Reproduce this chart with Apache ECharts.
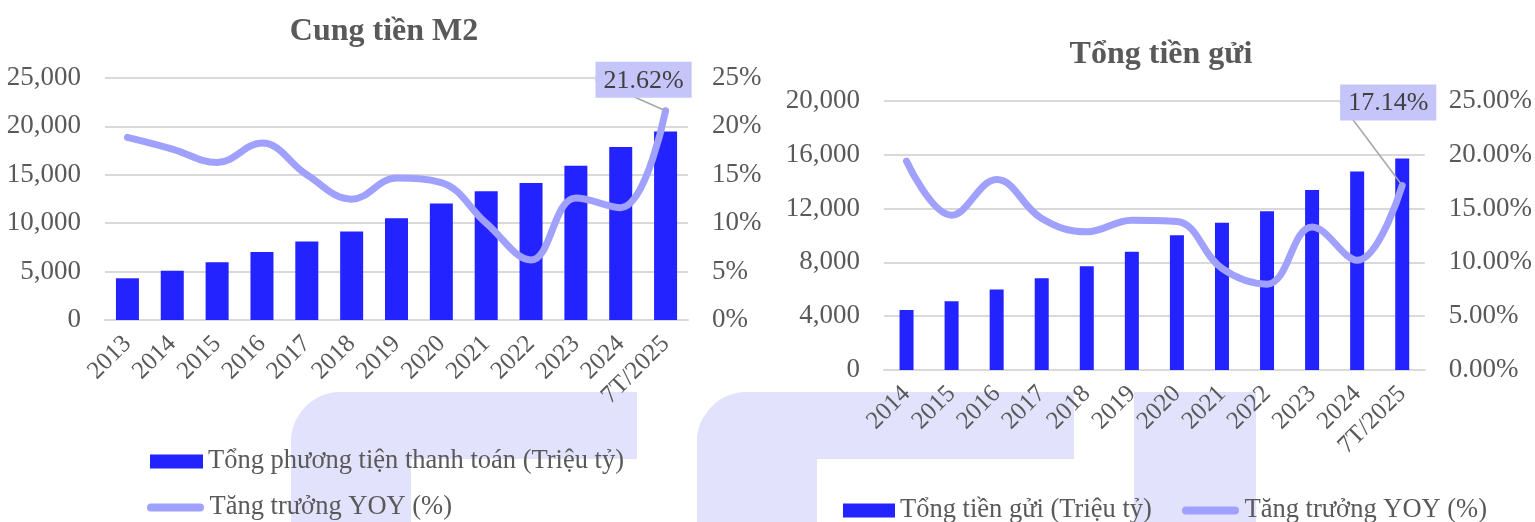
<!DOCTYPE html>
<html>
<head>
<meta charset="utf-8">
<script src="https://cdn.jsdelivr.net/npm/echarts@6/dist/echarts.min.js"></script>
<style>
  html, body { margin: 0; padding: 0; background: #fff; }
  #chart { width: 1535px; height: 522px; }
</style>
</head>
<body>
<div id="chart"></div>
<script>
// chart 1: Cung tien M2
const m2Years = ["2013", "2014", "2015", "2016", "2017", "2018", "2019", "2020", "2021", "2022", "2023", "2024", "7T/2025"];
const m2Values = [4310, 5100, 5970, 7030, 8100, 9140, 10520, 12030, 13310, 14140, 15930, 17860, 19480];
const m2Growth = [18.86, 17.66, 16.28, 18.28, 15.0, 12.48, 14.66, 14.2, 10.0, 6.2, 12.6, 11.6, 21.62];

// chart 2: Tong tien gui
const depYears = ["2014", "2015", "2016", "2017", "2018", "2019", "2020", "2021", "2022", "2023", "2024", "7T/2025"];
const depValues = [4460, 5120, 5990, 6830, 7720, 8790, 10020, 10940, 11810, 13390, 14750, 15720];
const depGrowth = [19.4, 14.39, 17.7, 14.08, 12.84, 13.92, 13.8, 9.44, 7.98, 13.3, 10.2, 17.14];

const font = "Liberation Serif";
const textGrey = "#595959";
const barBlue = "#2323FF";
const lineBlue = "#A0A0FF";
const gridGrey = "#D9D9D9";
const markBg = "#C5C5FA";
const wmColor = "#E2E2FC";
const pillIcon = "path://M4,0 L53,0 A4,4 0 0 1 53,8 L4,8 A4,4 0 0 1 4,0 Z";

const chart = echarts.init(document.getElementById("chart"));

function thousands(v) {
    return v.toString().replace(/\B(?=(\d{3})+(?!\d))/g, ",");
}

// only the last point carries the highlighted value label
function lastLabel(arr) {
    return arr.map(function (v, i) {
        if (i !== arr.length - 1) return v;
        return {
            value: v,
            label: {
                show: true,
                position: "top",
                distance: 5,
                formatter: v.toFixed(2) + "%",
                fontFamily: font,
                fontSize: 26,
                color: "#404040",
                backgroundColor: markBg,
                padding: [6, 8, 4, 8]
            },
            labelLine: { show: true, lineStyle: { color: "#A6A6A6", width: 1.5 } }
        };
    });
}

const valueAxisCommon = {
    type: "value",
    axisLine: { show: false },
    axisTick: { show: false },
    axisLabel: { fontFamily: font, fontSize: 27, color: textGrey, margin: 24 }
};

const catAxisCommon = {
    type: "category",
    axisLine: { show: true, lineStyle: { color: gridGrey, width: 2 } },
    axisTick: { show: false },
    axisLabel: { fontFamily: font, fontSize: 25, color: textGrey, rotate: 45, margin: 20, interval: 0 }
};

const legendText = { fontFamily: font, fontSize: 26.5, color: textGrey };

const option = {
    backgroundColor: "#fff",
    animation: false,
    title: [
        {
            text: "Cung tiền M2",
            left: 379, top: 11, textAlign: "center",
            textStyle: { fontFamily: font, fontSize: 32, fontWeight: "bold", color: textGrey }
        },
        {
            text: "Tổng tiền gửi",
            left: 1156, top: 34, textAlign: "center",
            textStyle: { fontFamily: font, fontSize: 32, fontWeight: "bold", color: textGrey }
        }
    ],
    graphic: [
        { type: "rect", z: -10, shape: { x: 291, y: 392, width: 346, height: 67, r: [50, 0, 0, 0] }, style: { fill: wmColor } },
        { type: "rect", z: -10, shape: { x: 291, y: 392, width: 120, height: 140, r: [50, 0, 0, 0] }, style: { fill: wmColor } },
        { type: "rect", z: -10, shape: { x: 697, y: 392, width: 377, height: 67, r: [50, 0, 0, 0] }, style: { fill: wmColor } },
        { type: "rect", z: -10, shape: { x: 697, y: 392, width: 120, height: 140, r: [50, 0, 0, 0] }, style: { fill: wmColor } },
        { type: "rect", z: -10, shape: { x: 1134, y: 392, width: 122, height: 140 }, style: { fill: wmColor } }
    ],
    legend: [
        {
            left: 150, top: 448, padding: 0,
            itemWidth: 53, itemHeight: 14,
            textStyle: legendText,
            data: [{ name: "Tổng phương tiện thanh toán (Triệu tỷ)", icon: "rect" }]
        },
        {
            left: 147, top: 494, padding: 0,
            itemWidth: 58, itemHeight: 8,
            textStyle: legendText,
            data: [{ name: "Tăng trưởng YOY (%)", icon: pillIcon }]
        },
        {
            left: 843, top: 497, padding: 0,
            itemWidth: 52, itemHeight: 14,
            textStyle: legendText,
            data: [{ name: "Tổng tiền gửi (Triệu tỷ)", icon: "rect" }]
        },
        {
            left: 1182, top: 497, padding: 0,
            itemWidth: 58, itemHeight: 8,
            textStyle: legendText,
            data: [{ name: "Tăng trưởng YOY (%)", icon: pillIcon }]
        }
    ],
    grid: [
        { left: 105, top: 78, width: 583, height: 242 },
        { left: 884, top: 101, width: 544, height: 269 }
    ],
    xAxis: [
        Object.assign({}, catAxisCommon, { gridIndex: 0, data: m2Years }),
        Object.assign({}, catAxisCommon, { gridIndex: 1, data: depYears })
    ],
    yAxis: [
        Object.assign({}, valueAxisCommon, {
            gridIndex: 0, min: 0, max: 25000, interval: 5000,
            splitLine: { lineStyle: { color: gridGrey, width: 2 } },
            axisLabel: Object.assign({}, valueAxisCommon.axisLabel, { formatter: thousands })
        }),
        Object.assign({}, valueAxisCommon, {
            gridIndex: 0, position: "right", min: 0, max: 25, interval: 5,
            splitLine: { show: false },
            axisLabel: Object.assign({}, valueAxisCommon.axisLabel, { formatter: "{value}%" })
        }),
        Object.assign({}, valueAxisCommon, {
            gridIndex: 1, min: 0, max: 20000, interval: 4000,
            splitLine: { lineStyle: { color: gridGrey, width: 2 } },
            axisLabel: Object.assign({}, valueAxisCommon.axisLabel, { formatter: thousands })
        }),
        Object.assign({}, valueAxisCommon, {
            gridIndex: 1, position: "right", min: 0, max: 25, interval: 5,
            splitLine: { show: false },
            axisLabel: Object.assign({}, valueAxisCommon.axisLabel, {
                formatter: function (v) { return v.toFixed(2) + "%"; }
            })
        })
    ],
    series: [
        {
            name: "Tổng phương tiện thanh toán (Triệu tỷ)",
            type: "bar", xAxisIndex: 0, yAxisIndex: 0,
            barWidth: 23,
            itemStyle: { color: barBlue },
            data: m2Values
        },
        {
            name: "Tăng trưởng YOY (%)",
            type: "line", xAxisIndex: 0, yAxisIndex: 1,
            smooth: 0.4, symbol: "circle", symbolSize: 0,
            lineStyle: { color: lineBlue, width: 7, cap: "round" },
            itemStyle: { color: lineBlue },
            labelLayout: { dx: -22, dy: -8 },
            data: lastLabel(m2Growth)
        },
        {
            name: "Tổng tiền gửi (Triệu tỷ)",
            type: "bar", xAxisIndex: 1, yAxisIndex: 2,
            barWidth: 14,
            itemStyle: { color: barBlue },
            data: depValues
        },
        {
            name: "Tăng trưởng YOY (%)",
            type: "line", xAxisIndex: 1, yAxisIndex: 3,
            smooth: 0.4, symbol: "circle", symbolSize: 0,
            lineStyle: { color: lineBlue, width: 7, cap: "round" },
            itemStyle: { color: lineBlue },
            labelLayout: { dx: -14, dy: -60 },
            data: lastLabel(depGrowth)
        }
    ]
};

chart.setOption(option);
</script>
</body>
</html>
